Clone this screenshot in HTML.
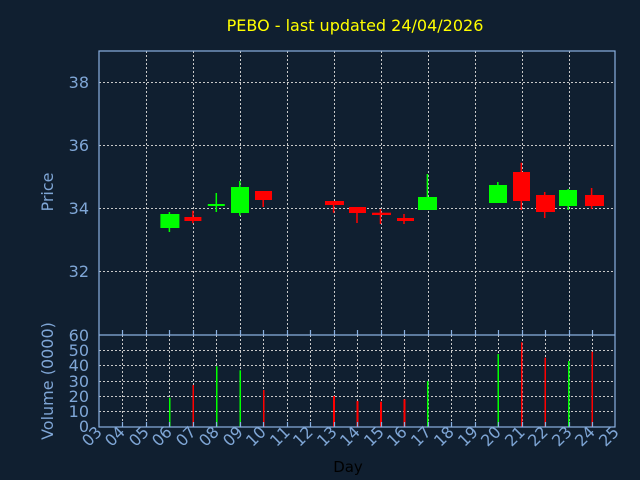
<!DOCTYPE html>
<html><head><meta charset="utf-8"><style>
html,body{margin:0;padding:0;background:#101f30;}
svg{display:block;font-family:"DejaVu Sans","Liberation Sans",sans-serif;}
</style></head><body>
<svg width="640" height="480" viewBox="0 0 640 480" xmlns="http://www.w3.org/2000/svg">
<rect width="640" height="480" fill="#101f30"/>
<text x="355" y="31" fill="#ffff00" font-size="16" text-anchor="middle">PEBO - last updated 24/04/2026</text>
<g stroke="#c8c8c8" stroke-width="1" stroke-dasharray="2,2" fill="none">
<path d="M99 82.5H615M99 145.5H615M99 208.5H615M99 271.5H615"/>
<path d="M146.5 51V335M193.5 51V335M240.5 51V335M287.5 51V335M334.5 51V335M381.5 51V335M428.5 51V335M475.5 51V335M522.5 51V335M569.5 51V335"/>
<path d="M99 350.5H615M99 365.5H615M99 381.5H615M99 396.5H615M99 411.5H615"/>
<path d="M122.5 335V427M146.5 335V427M169.5 335V427M193.5 335V427M216.5 335V427M240.5 335V427M263.5 335V427M287.5 335V427M310.5 335V427M334.5 335V427M357.5 335V427M381.5 335V427M404.5 335V427M428.5 335V427M451.5 335V427M475.5 335V427M498.5 335V427M522.5 335V427M545.5 335V427M569.5 335V427M592.5 335V427"/>
</g>
<g stroke="#00ff00" stroke-width="1.5">
<path d="M169.4 212V232M216.3 193V212M239.8 181V215.7M427.4 174V210M497.8 182V203M568.2 189V210"/></g>
<g fill="#00ff00">
<rect x="160.4" y="214" width="19" height="14"/>
<rect x="207.8" y="204" width="17" height="2"/>
<rect x="231" y="187" width="18" height="26"/>
<rect x="418" y="197" width="19" height="13"/>
<rect x="489" y="185" width="18" height="18"/>
<rect x="559" y="190" width="18" height="16"/>
</g>
<g stroke="#ff0000" stroke-width="1.5">
<path d="M192.9 210.7V223.3M263.2 191V207M333.6 201V212.7M357 207V223M380.5 209V224M404 214V224M521.3 162.7V210M544.7 192V218M591.6 188V209"/></g>
<g fill="#ff0000">
<rect x="184.4" y="217" width="17" height="4"/>
<rect x="255" y="191" width="17" height="9"/>
<rect x="325" y="201" width="19" height="4"/>
<rect x="349" y="207" width="17" height="6"/>
<rect x="372" y="212.7" width="19" height="2.3"/>
<rect x="397" y="218" width="17" height="3"/>
<rect x="513" y="172" width="17" height="29"/>
<rect x="536" y="195" width="19" height="17"/>
<rect x="585" y="195" width="19" height="11"/>
</g>
<g fill="#00ff00">
<rect x="169" y="397.7" width="1.5" height="29.3"/>
<rect x="216" y="366.3" width="1.5" height="60.7"/>
<rect x="239.5" y="370.3" width="1.5" height="56.7"/>
<rect x="427" y="381" width="1.5" height="46"/>
<rect x="497.5" y="354" width="1.5" height="73"/>
<rect x="568" y="361" width="1.5" height="66"/>
</g>
<g fill="#ff0000">
<rect x="192.5" y="385" width="1.5" height="42"/>
<rect x="263" y="390" width="1.5" height="37"/>
<rect x="333" y="396" width="2" height="31"/>
<rect x="356.5" y="401" width="2" height="26"/>
<rect x="380" y="401.7" width="2" height="25.3"/>
<rect x="403.5" y="399.3" width="2" height="27.7"/>
<rect x="521" y="342.3" width="1.5" height="84.7"/>
<rect x="544.5" y="357.7" width="1.5" height="69.3"/>
<rect x="591.5" y="351.7" width="1.5" height="75.3"/>
</g>
<g stroke="#8ab0e0" stroke-width="1.2" fill="none">
<rect x="99" y="51" width="516" height="376"/>
<path d="M99 335H615"/>
<path d="M122.5 427v-5M146.5 427v-5M169.5 427v-5M193.5 427v-5M216.5 427v-5M240.5 427v-5M263.5 427v-5M287.5 427v-5M310.5 427v-5M334.5 427v-5M357.5 427v-5M381.5 427v-5M404.5 427v-5M428.5 427v-5M451.5 427v-5M475.5 427v-5M498.5 427v-5M522.5 427v-5M545.5 427v-5M569.5 427v-5M592.5 427v-5"/>
<path d="M122.5 335v-5M146.5 335v-5M169.5 335v-5M193.5 335v-5M216.5 335v-5M240.5 335v-5M263.5 335v-5M287.5 335v-5M310.5 335v-5M334.5 335v-5M357.5 335v-5M381.5 335v-5M404.5 335v-5M428.5 335v-5M451.5 335v-5M475.5 335v-5M498.5 335v-5M522.5 335v-5M545.5 335v-5M569.5 335v-5M592.5 335v-5"/>
</g>
<g fill="#7fa6d6" font-size="16" text-anchor="end">
<text x="89" y="88">38</text><text x="89" y="151">36</text><text x="89" y="214">34</text><text x="89" y="277">32</text>
</g>
<g fill="#7fa6d6" font-size="16" text-anchor="end">
<text x="89" y="341">60</text><text x="89" y="356">50</text><text x="89" y="371">40</text><text x="89" y="387">30</text><text x="89" y="402">20</text><text x="89" y="417">10</text><text x="89" y="432">0</text>
</g>
<text transform="translate(53,192) rotate(-90)" fill="#7fa6d6" font-size="16" text-anchor="middle">Price</text>
<text transform="translate(53,381) rotate(-90)" fill="#7fa6d6" font-size="16" text-anchor="middle">Volume (0000)</text>
<g fill="#7fa6d6" font-size="16" text-anchor="end">
<text transform="translate(103,433) rotate(-45)">03</text>
<text transform="translate(126,433) rotate(-45)">04</text>
<text transform="translate(150,433) rotate(-45)">05</text>
<text transform="translate(173,433) rotate(-45)">06</text>
<text transform="translate(197,433) rotate(-45)">07</text>
<text transform="translate(220,433) rotate(-45)">08</text>
<text transform="translate(244,433) rotate(-45)">09</text>
<text transform="translate(267,433) rotate(-45)">10</text>
<text transform="translate(291,433) rotate(-45)">11</text>
<text transform="translate(314,433) rotate(-45)">12</text>
<text transform="translate(338,433) rotate(-45)">13</text>
<text transform="translate(361,433) rotate(-45)">14</text>
<text transform="translate(385,433) rotate(-45)">15</text>
<text transform="translate(408,433) rotate(-45)">16</text>
<text transform="translate(432,433) rotate(-45)">17</text>
<text transform="translate(455,433) rotate(-45)">18</text>
<text transform="translate(479,433) rotate(-45)">19</text>
<text transform="translate(502,433) rotate(-45)">20</text>
<text transform="translate(526,433) rotate(-45)">21</text>
<text transform="translate(549,433) rotate(-45)">22</text>
<text transform="translate(573,433) rotate(-45)">23</text>
<text transform="translate(596,433) rotate(-45)">24</text>
<text transform="translate(620,433) rotate(-45)">25</text>
</g>
<text x="348" y="472" fill="#000000" font-size="15" text-anchor="middle">Day</text>
</svg>
</body></html>
